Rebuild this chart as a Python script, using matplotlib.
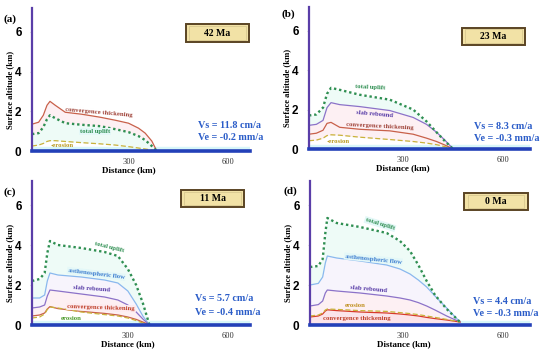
import numpy as np
import matplotlib
matplotlib.use('Agg')
import matplotlib.pyplot as plt
from matplotlib.patches import Rectangle

# Panel data (distance in km, surface altitude in km)
# (a) 42 Ma
a_x = [10, 30, 44, 55, 64, 80, 110, 160, 215, 260, 300, 330, 350, 370, 385]
a_conv = [1.35, 1.45, 1.8, 2.3, 2.5, 2.3, 1.95, 1.85, 1.7, 1.55, 1.4, 1.15, 0.9, 0.5, 0.0]
a_total = [0.85, 0.9, 1.2, 1.6, 1.8, 1.65, 1.4, 1.32, 1.25, 1.1, 0.95, 0.75, 0.55, 0.25, 0.0]
a_eros = [0.25, 0.3, 0.38, 0.48, 0.52, 0.52, 0.48, 0.42, 0.36, 0.3, 0.22, 0.15, 0.1, 0.05, 0.0]

# (b) 23 Ma
b_x = [18, 40, 60, 72, 84, 110, 170, 260, 330, 370, 400, 425, 450]
b_total = [1.7, 1.75, 2.1, 2.8, 3.1, 3.0, 2.75, 2.5, 2.0, 1.4, 0.85, 0.4, 0.0]
b_slab = [1.2, 1.25, 1.45, 2.1, 2.35, 2.25, 2.15, 1.95, 1.6, 1.25, 0.85, 0.45, 0.0]
b_conv = [0.75, 0.8, 0.95, 1.3, 1.35, 1.1, 1.0, 0.92, 0.75, 0.55, 0.38, 0.2, 0.0]
b_eros = [0.42, 0.45, 0.55, 0.68, 0.72, 0.7, 0.6, 0.48, 0.38, 0.3, 0.22, 0.12, 0.0]

# (c) 11 Ma
c_x = [12, 35, 50, 58, 66, 90, 160, 230, 270, 300, 325, 345, 365]
c_total = [2.2, 2.3, 2.6, 3.6, 4.2, 4.0, 3.85, 3.65, 3.45, 2.8, 2.0, 1.1, 0.0]
c_asth = [1.35, 1.35, 1.5, 2.2, 2.6, 2.5, 2.4, 2.25, 2.1, 1.7, 1.05, 0.45, 0.0]
c_slab = [0.85, 0.9, 1.0, 1.45, 1.75, 1.7, 1.55, 1.4, 1.25, 1.0, 0.65, 0.3, 0.0]
c_conv = [0.45, 0.5, 0.6, 0.8, 0.92, 0.82, 0.68, 0.58, 0.5, 0.4, 0.28, 0.15, 0.0]
c_eros = [0.35, 0.4, 0.55, 0.78, 0.9, 0.85, 0.65, 0.52, 0.45, 0.35, 0.22, 0.1, 0.0]

# (d) 0 Ma
d_x = [20, 45, 58, 66, 72, 100, 170, 250, 290, 320, 345, 370, 395, 430, 470]
d_total = [2.9, 2.95, 3.3, 4.6, 5.35, 5.1, 4.9, 4.6, 4.2, 3.7, 3.0, 2.2, 1.5, 0.8, 0.15]
d_asth = [2.0, 2.08, 2.4, 3.1, 3.45, 3.35, 3.2, 3.0, 2.8, 2.55, 2.25, 1.9, 1.45, 0.85, 0.15]
d_slab = [0.95, 1.02, 1.2, 1.6, 1.75, 1.7, 1.6, 1.45, 1.35, 1.25, 1.12, 0.95, 0.75, 0.45, 0.15]
d_eros = [0.45, 0.5, 0.6, 0.75, 0.8, 0.78, 0.72, 0.68, 0.62, 0.57, 0.52, 0.45, 0.38, 0.28, 0.15]
d_conv = [0.4, 0.45, 0.55, 0.7, 0.76, 0.72, 0.65, 0.6, 0.55, 0.5, 0.45, 0.38, 0.32, 0.25, 0.15]

ages = ['42 Ma', '23 Ma', '11 Ma', '0 Ma']
vs_text = ['Vs = 11.8 cm/a', 'Vs = 8.3 cm/a', 'Vs = 5.7 cm/a', 'Vs = 4.4 cm/a']
ve_text = ['Ve = -0.2 mm/a', 'Ve = -0.3 mm/a', 'Ve = -0.4 mm/a', 'Ve = -0.3 mm/a']
panel_tags = ['(a)', '(b)', '(c)', '(d)']

# Styles
SERIF = 'Liberation Serif'
SANS = 'Liberation Sans'
C_TOTAL = '#2f8f52'
C_CONV = '#c8604a'
C_SLAB = '#8c72c8'
C_ASTH = '#8ab8ee'
C_EROS = '#c9b23a'
C_VS = '#2a5cc8'
F_GREEN = '#eefbf7'
F_PINK = '#fdf0f3'
F_LILAC = '#f7f4fc'

W, H = 550, 352
fig = plt.figure(figsize=(5.5, 3.52), dpi=100)

# axes rectangles in pixels: left, bottom, width, height, xlim
rects = [(32, 201, 218, 143, (10, 665)),
         (309, 203, 221, 142, (18, 680)),
         (32, 27, 218, 144, (12, 667)),
         (310, 27, 220, 144, (20, 680))]

axes = []
for (l, b, w, h, xl) in rects:
    ax = fig.add_axes([l / W, b / H, w / W, h / H])
    ax.set_xlim(*xl)
    ax.set_ylim(0, 7.2)
    for s in ['top', 'right']:
        ax.spines[s].set_visible(False)
    ax.spines['left'].set_color('#5a3ea8')
    ax.spines['left'].set_linewidth(1.6)
    ax.spines['bottom'].set_color('#2340b8')
    ax.spines['bottom'].set_linewidth(2.6)
    ax.set_yticks([0, 2, 4, 6])
    ax.set_xticks([300, 600])
    ax.tick_params(axis='y', length=1.5, color='#cccccc', pad=6)
    ax.tick_params(axis='x', length=0, pad=5)
    for t in ax.get_yticklabels():
        t.set_fontfamily(SANS)
        t.set_fontweight('bold')
        t.set_fontsize(8.5)
    for t in ax.get_xticklabels():
        t.set_fontfamily(SERIF)
        t.set_fontsize(6)
        t.set_color('#333333')
    # pale band above the baseline
    ax.axhspan(0, 0.22, color='#d8f6f9', zorder=0)
    ax.text(300, -0.105, 'Distance (km)', transform=ax.get_xaxis_transform(),
            ha='center', va='top', fontfamily=SERIF, fontweight='bold', fontsize=6.5)
    ax.text(-0.1, 0.43, 'Surface altitude (km)', transform=ax.transAxes, rotation=90,
            ha='center', va='center', fontfamily=SERIF, fontweight='bold', fontsize=6.2)
    axes.append(ax)

lab = dict(fontfamily=SERIF, fontweight='bold', fontsize=4.8, ha='center', va='center')


def tag(ax, x, y, s, color, rot=0, bg=None):
    kw = dict(lab)
    if bg is not None:
        kw['bbox'] = dict(boxstyle='square,pad=0.15', fc=bg, ec='none')
    ax.text(x, y, s, color=color, rotation=rot, **kw)


# (a)
ax = axes[0]
ax.fill_between(a_x, a_total, a_conv, color=F_PINK, lw=0, zorder=0.5)
ax.fill_between(a_x, a_eros, a_total, color=F_GREEN, lw=0, zorder=0.5)
ax.plot(a_x, a_conv, color=C_CONV, lw=0.9)
ax.plot(a_x, a_total, color=C_TOTAL, lw=1.7, ls=(0, (1, 1.2)))
ax.plot(a_x, a_eros, color=C_EROS, lw=0.9, ls=(0, (4, 2)))
tag(ax, 210, 1.95, 'convergence thickening', '#a0443a', rot=-5)
tag(ax, 200, 1.0, 'total uplift', C_TOTAL, bg='#e4f8f8')
tag(ax, 100, 0.27, '-erosion', '#b89a20')

# (b)
ax = axes[1]
ax.fill_between(b_x, b_slab, b_total, color=F_GREEN, lw=0, zorder=0.5)
ax.fill_between(b_x, b_conv, b_slab, color=F_PINK, lw=0, zorder=0.5)
ax.fill_between(b_x, b_eros, b_conv, color=F_PINK, lw=0, zorder=0.5)
ax.plot(b_x, b_slab, color=C_SLAB, lw=0.9)
ax.plot(b_x, b_conv, color=C_CONV, lw=0.9)
ax.plot(b_x, b_total, color=C_TOTAL, lw=1.7, ls=(0, (1, 1.2)))
ax.plot(b_x, b_eros, color=C_EROS, lw=0.9, ls=(0, (4, 2)))
tag(ax, 200, 3.12, 'total uplift', C_TOTAL, rot=-3)
tag(ax, 213, 1.76, 'slab rebound', '#5a3ea8', rot=-5)
tag(ax, 230, 1.17, 'convergence thickening', '#a0443a', rot=-3)
tag(ax, 105, 0.37, '-erosion', '#b89a20')

# (c)
ax = axes[2]
ax.fill_between(c_x, c_asth, c_total, color=F_GREEN, lw=0, zorder=0.5)
ax.fill_between(c_x, c_slab, c_asth, color=F_LILAC, lw=0, zorder=0.5)
ax.fill_between(c_x, c_conv, c_slab, color=F_PINK, lw=0, zorder=0.5)
ax.plot(c_x, c_asth, color=C_ASTH, lw=0.9)
ax.plot(c_x, c_slab, color=C_SLAB, lw=0.9)
ax.plot(c_x, c_conv, color=C_CONV, lw=0.9)
ax.plot(c_x, c_eros, color=C_EROS, lw=0.9, ls=(0, (4, 2)))
ax.plot(c_x, c_total, color=C_TOTAL, lw=1.7, ls=(0, (1, 1.2)))
tag(ax, 244, 3.9, 'total uplift', C_TOTAL, rot=-14)
tag(ax, 205, 2.56, 'asthenospheric flow', '#3f7fd0', rot=-7, bg='#e4f8f8')
tag(ax, 190, 1.79, 'slab rebound', '#5a3ea8', rot=-4)
tag(ax, 220, 0.87, 'convergence thickening', '#c0402a', rot=-2, bg='#fdecf0')
tag(ax, 130, 0.3, 'erosion', '#4a9a2a')

# (d)
ax = axes[3]
ax.fill_between(d_x, d_asth, d_total, color=F_GREEN, lw=0, zorder=0.5)
ax.fill_between(d_x, d_slab, d_asth, color=F_LILAC, lw=0, zorder=0.5)
ax.fill_between(d_x, d_conv, d_slab, color=F_PINK, lw=0, zorder=0.5)
ax.fill_between(d_x, 0, d_conv, color='#fbe4ea', lw=0, zorder=0.5)
ax.plot(d_x, d_asth, color=C_ASTH, lw=0.9)
ax.plot(d_x, d_slab, color=C_SLAB, lw=0.9)
ax.plot(d_x, d_conv, color='#d83a2a', lw=0.9)
ax.plot(d_x, d_eros, color=C_EROS, lw=0.9, ls=(0, (4, 2)))
ax.plot(d_x, d_total, color=C_TOTAL, lw=1.7, ls=(0, (1, 1.2)))
tag(ax, 230, 5.05, 'total uplift', C_TOTAL, rot=-17, bg='#e4f8f8')
tag(ax, 210, 3.3, 'asthenospheric flow', '#3f7fd0', rot=-6, bg='#e4f8f8')
tag(ax, 195, 1.78, 'slab rebound', '#5a3ea8', rot=-5)
tag(ax, 155, 0.97, 'erosion', '#c09020')
tag(ax, 160, 0.33, 'convergence thickening', '#c0402a')

# age boxes and velocity annotations
box_centers = [(567, 5.93), (570, 5.72), (555, 6.32), (578, 6.18)]
vs_pos = [(509, 1.26, 0.67), (511, 1.13, 0.54), (502, 1.32, 0.62), (508, 1.18, 0.6)]
for i, ax in enumerate(axes):
    cx, cy = box_centers[i]
    bw, bh = 190, 0.88
    ax.add_patch(Rectangle((cx - bw / 2, cy - bh / 2), bw, bh, fc='#f2e2a6',
                           ec='#5a4424', lw=1.4, zorder=5))
    ax.add_patch(Rectangle((cx - bw / 2 + 10, cy - bh / 2 + 0.1), bw - 20, bh - 0.2,
                           fc='none', ec='#d8c890', lw=0.6, zorder=5))
    ax.text(cx, cy, ages[i], ha='center', va='center', fontfamily=SERIF,
            fontweight='bold', fontsize=7, zorder=6)
    vx, vy1, vy2 = vs_pos[i]
    ax.text(vx, vy1, vs_text[i], ha='left', va='center', color=C_VS,
            fontfamily=SERIF, fontweight='bold', fontsize=7.3)
    ax.text(vx, vy2, ve_text[i], ha='left', va='center', color=C_VS,
            fontfamily=SERIF, fontweight='bold', fontsize=7.3)

# panel tags
tag_pos = [(3, 333), (282, 338), (4, 160), (284, 161)]
for s, (px, py) in zip(panel_tags, tag_pos):
    fig.text(px / W, py / H, s, fontfamily=SERIF, fontweight='bold', fontsize=8,
             ha='left', va='center')

fig.savefig('out.png', dpi=100)
